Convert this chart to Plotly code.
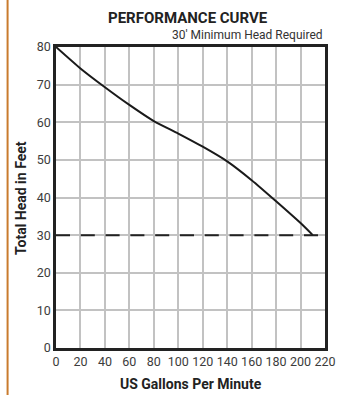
import plotly.graph_objects as go

# pump curve
flow_gpm = [0, 20, 40, 60, 80, 100, 120, 140, 160, 180, 200, 210]
head_ft = [80, 74.3, 69.3, 64.6, 60.3, 57.0, 53.5, 49.6, 44.6, 39.0, 33.2, 30]

min_head = 30
x_ticks = list(range(0, 221, 20))
y_ticks = list(range(0, 81, 10))

FONT = "Roboto"
PLOTLY_CONFIG = {"displayModeBar": False}

fig = go.Figure()

fig.add_trace(go.Scatter(
    x=flow_gpm, y=head_ft,
    mode="lines",
    line=dict(color="#1a1a1a", width=2, shape="spline", smoothing=0.6),
    showlegend=False,
))

# minimum head reference line
fig.add_trace(go.Scatter(
    x=[0, 220], y=[min_head, min_head],
    mode="lines",
    line=dict(color="#222222", width=2, dash="14px,10.8px"),
    showlegend=False,
))

fig.update_layout(
    width=348, height=395,
    margin=dict(l=56, r=20, t=47, b=47),
    paper_bgcolor="white",
    plot_bgcolor="white",
    font=dict(family=FONT, color="#3c3c3c", size=12),
    xaxis=dict(
        range=[0, 220], tickvals=x_ticks, ticks="",
        showgrid=True, gridcolor="#c2c2c2", gridwidth=2,
        showline=True, linecolor="#222222", linewidth=2.5, mirror=True,
        zeroline=False, tickfont=dict(size=12.5, color="#3c3c3c"),
    ),
    yaxis=dict(
        range=[0, 80], tickvals=y_ticks, ticks="",
        showgrid=True, gridcolor="#c2c2c2", gridwidth=2,
        showline=True, linecolor="#222222", linewidth=2.5, mirror=True,
        zeroline=False, tickfont=dict(size=12.5, color="#3c3c3c"),
    ),
    annotations=[
        dict(text="<b>PERFORMANCE CURVE</b>", xref="paper", yref="paper",
             x=0.49, y=1.096, showarrow=False, xanchor="center", yanchor="middle",
             font=dict(size=15, color="#222222", family=FONT)),
        dict(text="30' Minimum Head Required", xref="paper", yref="paper",
             x=1.0, y=1.04, showarrow=False, xanchor="right", yanchor="middle",
             font=dict(size=12, color="#333333", family=FONT)),
        dict(text="<b>Total Head in Feet</b>", xref="paper", yref="paper",
             x=-0.132, y=0.5, showarrow=False, textangle=-90,
             xanchor="center", yanchor="middle",
             font=dict(size=14, color="#222222", family=FONT)),
        dict(text="<b>US Gallons Per Minute</b>", xref="paper", yref="paper",
             x=0.5, y=-0.12, showarrow=False, xanchor="center", yanchor="middle",
             font=dict(size=14, color="#222222", family=FONT)),
    ],
    shapes=[
        # orange side rule at the left edge of the card
        dict(type="line", xref="paper", yref="paper",
             x0=-0.18, x1=-0.18, y0=-0.2, y1=1.2,
             line=dict(color="#c97b2e", width=2)),
    ],
)

# drop the default body margin so the figure sits at the window origin
fig.write_html("out.html", config=PLOTLY_CONFIG,
               post_script="document.body.style.margin='0';")
